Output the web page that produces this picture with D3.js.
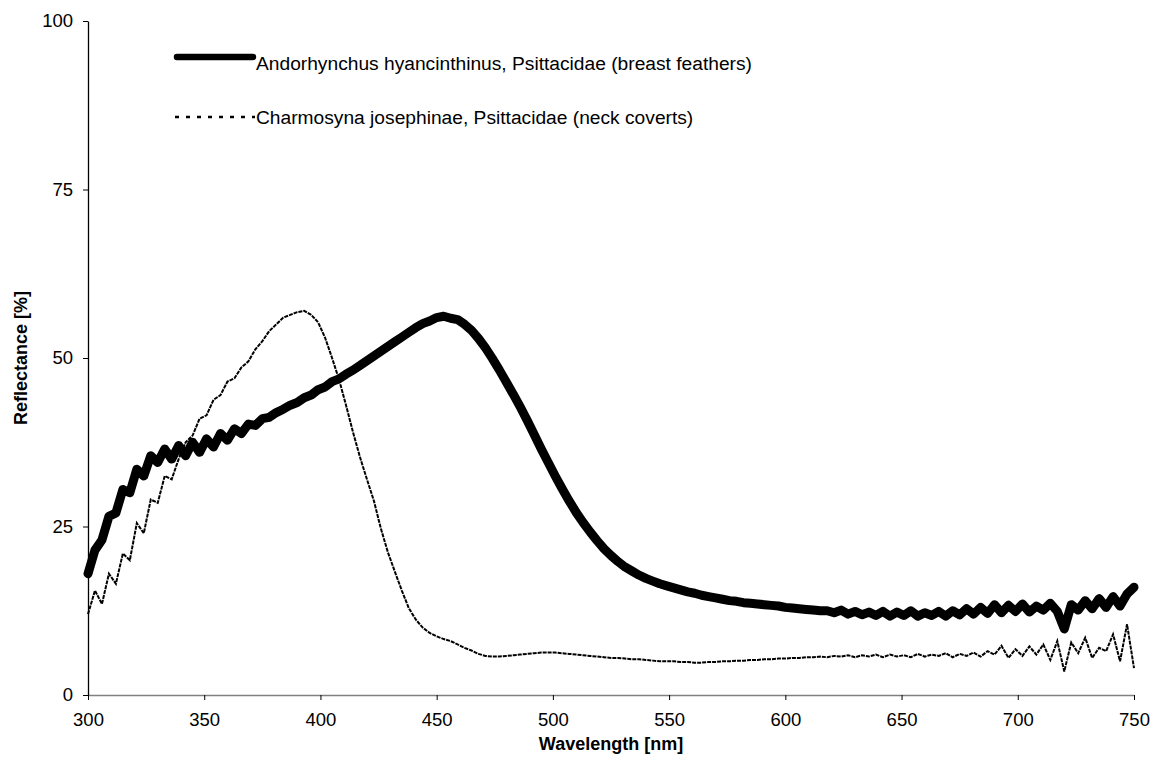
<!DOCTYPE html>
<html>
<head>
<meta charset="utf-8">
<script src="https://cdn.jsdelivr.net/npm/d3@7/dist/d3.min.js"></script>
<style>
  html, body { margin: 0; padding: 0; background: #fff; }
  svg { display: block; font-family: "Liberation Sans", Arial, sans-serif; }
</style>
</head>
<body>
<svg id="chart" width="1163" height="771"></svg>
<script>
// Sample wavelengths (nm) shared by both spectra
const wavelengths = [
  300,303,306,309,312,315,318,321,324,327,330,333,336,339,342,345,348,351,354,357,
  360,363,366,369,372,375,378,381,384,387,390,393,396,399,402,405,408,411,414,417,
  420,423,426,429,432,435,438,441,444,447,450,453,456,459,462,465,468,471,474,477,
  480,483,486,489,492,495,498,501,504,507,510,513,516,519,522,525,528,531,534,537,
  540,543,546,549,552,555,558,561,564,567,570,573,576,579,582,585,588,591,594,597,
  600,603,606,609,612,615,618,621,624,627,630,633,636,639,642,645,648,651,654,657,
  660,663,666,669,672,675,678,681,684,687,690,693,696,699,702,705,708,711,714,717,
  720,723,726,729,732,735,738,741,744,747,750
];

// Reflectance (%) - Andorhynchus hyancinthinus, breast feathers
const hyacinthReflectance = [
  18.0,21.5,23.0,26.5,27.0,30.5,30.0,33.5,32.5,35.5,34.5,36.5,35.0,37.0,35.5,37.5,36.0,38.0,36.8,38.8,
  37.8,39.5,38.8,40.2,40.0,41.0,41.2,41.9,42.4,43.0,43.4,44.1,44.5,45.3,45.7,46.5,46.9,47.6,48.2,48.9,
  49.6,50.3,51.0,51.7,52.4,53.1,53.8,54.5,55.1,55.5,56.0,56.2,55.9,55.7,55.0,54.1,52.9,51.5,49.9,48.2,
  46.4,44.6,42.7,40.7,38.6,36.5,34.5,32.5,30.6,28.8,27.1,25.6,24.2,22.9,21.7,20.7,19.8,19.0,18.4,17.8,
  17.3,16.9,16.5,16.2,15.9,15.6,15.3,15.1,14.8,14.6,14.4,14.2,14.0,13.9,13.7,13.6,13.5,13.4,13.3,13.2,
  13.0,12.9,12.8,12.7,12.6,12.5,12.5,12.2,12.6,12.0,12.4,11.9,12.3,11.8,12.4,11.7,12.3,11.8,12.5,11.7,
  12.2,11.8,12.4,11.7,12.5,11.9,12.8,12.0,13.0,12.1,13.4,12.2,13.3,12.4,13.5,12.3,13.2,12.6,13.6,12.4,
  9.8,13.4,12.6,14.0,12.8,14.3,13.0,14.6,13.2,15.0,16.0
];

// Reflectance (%) - Charmosyna josephinae, neck coverts
const josephinaeReflectance = [
  12.0,15.5,13.5,18.0,16.5,21.0,20.0,25.5,24.0,29.0,28.5,32.5,32.0,35.0,37.5,38.5,41.0,41.5,43.8,44.5,
  46.5,47.0,48.6,49.5,51.3,52.5,54.0,55.0,56.0,56.4,56.8,57.0,56.4,55.3,53.0,50.0,46.8,43.0,39.0,35.3,
  32.0,28.8,24.7,21.2,18.3,15.5,12.9,11.2,10.0,9.2,8.7,8.3,8.0,7.5,7.0,6.6,6.1,5.8,5.7,5.7,
  5.8,5.9,6.0,6.1,6.2,6.3,6.3,6.3,6.2,6.1,6.0,5.9,5.8,5.7,5.6,5.5,5.5,5.4,5.3,5.3,
  5.2,5.1,5.0,5.0,5.0,4.9,4.9,4.8,4.8,4.9,4.9,5.0,5.0,5.1,5.1,5.2,5.2,5.3,5.3,5.4,
  5.4,5.5,5.5,5.6,5.6,5.7,5.6,5.8,5.7,5.9,5.6,5.9,5.7,6.0,5.6,6.0,5.7,5.9,5.6,6.1,
  5.7,6.0,5.8,6.2,5.6,6.1,5.8,6.3,5.7,6.5,6.0,7.3,5.5,6.8,5.8,7.2,6.0,7.5,5.2,8.0,
  3.5,7.8,6.2,8.5,5.5,7.0,6.5,9.0,5.0,10.5,4.0
];

const xTicks = [300, 350, 400, 450, 500, 550, 600, 650, 700, 750];
const yTicks = [0, 25, 50, 75, 100];

const seriesNames = [
  "Andorhynchus hyancinthinus, Psittacidae (breast feathers)",
  "Charmosyna josephinae, Psittacidae (neck coverts)"
];

const svg = d3.select("#chart");

const x = d3.scaleLinear().domain([300, 750]).range([88, 1134]);
const y = d3.scaleLinear().domain([0, 100]).range([695, 21]);

const pts = vals => wavelengths.map((w, i) => [w, vals[i]]);
const line = d3.line().x(d => x(d[0])).y(d => y(d[1]));

// Axes
const xAxis = svg.append("g")
  .attr("transform", `translate(0,${y(0)})`)
  .call(d3.axisBottom(x).tickValues(xTicks).tickSize(5).tickSizeOuter(0).tickPadding(13));
xAxis.select(".domain").attr("stroke", "#808080").attr("stroke-width", 1.3);
xAxis.selectAll(".tick line").attr("stroke", "#000");
xAxis.selectAll("text").attr("font-size", 18.5).attr("fill", "#000")
  .attr("font-family", "Liberation Sans, Arial, sans-serif");

const yAxis = svg.append("g")
  .attr("transform", `translate(${x(300)},0)`)
  .call(d3.axisLeft(y).tickValues(yTicks).tickSize(5).tickSizeOuter(0).tickPadding(10));
yAxis.select(".domain").attr("stroke", "#000").attr("stroke-width", 1.3);
yAxis.selectAll(".tick line").attr("stroke", "#000");
yAxis.selectAll("text").attr("font-size", 18.5).attr("fill", "#000")
  .attr("font-family", "Liberation Sans, Arial, sans-serif");

// Spectra
svg.append("path")
  .datum(pts(josephinaeReflectance))
  .attr("d", line)
  .attr("fill", "none")
  .attr("stroke", "#000")
  .attr("stroke-width", 2)
  .attr("stroke-dasharray", "4,1");

svg.append("path")
  .datum(pts(hyacinthReflectance))
  .attr("d", line)
  .attr("fill", "none")
  .attr("stroke", "#000")
  .attr("stroke-width", 9)
  .attr("stroke-linejoin", "round")
  .attr("stroke-linecap", "round");

// Axis titles
svg.append("text")
  .attr("x", (x(300) + x(750)) / 2)
  .attr("y", 750)
  .attr("text-anchor", "middle")
  .attr("font-size", 18)
  .attr("font-weight", "bold")
  .text("Wavelength [nm]");

svg.append("text")
  .attr("transform", `translate(27,${(y(0) + y(100)) / 2}) rotate(-90)`)
  .attr("text-anchor", "middle")
  .attr("font-size", 18)
  .attr("font-weight", "bold")
  .text("Reflectance [%]");

// Legend
const legend = svg.append("g");
legend.append("line")
  .attr("x1", 177).attr("x2", 253).attr("y1", 57).attr("y2", 57)
  .attr("stroke", "#000").attr("stroke-width", 6.5).attr("stroke-linecap", "round");
legend.append("text")
  .attr("x", 256).attr("y", 70)
  .attr("font-size", 19.2)
  .text(seriesNames[0]);

legend.append("line")
  .attr("x1", 175).attr("x2", 255).attr("y1", 117).attr("y2", 117)
  .attr("stroke", "#000").attr("stroke-width", 2.5).attr("stroke-dasharray", "4,7");
legend.append("text")
  .attr("x", 256).attr("y", 124)
  .attr("font-size", 19.2)
  .text(seriesNames[1]);
</script>
</body>
</html>
